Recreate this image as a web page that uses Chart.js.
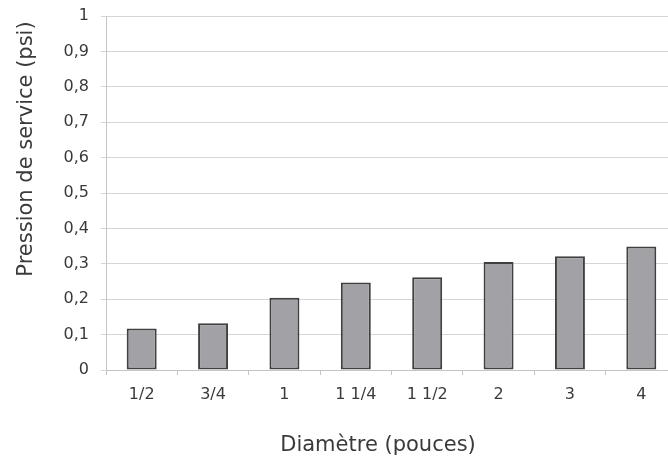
<!DOCTYPE html>
<html>
<head>
<meta charset="utf-8">
<script src="https://cdn.jsdelivr.net/npm/chart.js@4.4.0/dist/chart.umd.min.js"></script>
<style>
  html, body { margin: 0; padding: 0; background: #fff; }
  #graficoPression { display: block; }
</style>
</head>
<body>
<canvas id="graficoPression" width="668" height="456"></canvas>
<script>
// Diamètres (pouces) et pression de service (psi)
var diametres = ['1/2', '3/4', '1', '1 1/4', '1 1/2', '2', '3', '4'];
var pressions = [0.117, 0.132, 0.204, 0.247, 0.262, 0.305, 0.321, 0.349];
var graduationsY = [0, 0.1, 0.2, 0.3, 0.4, 0.5, 0.6, 0.7, 0.8, 0.9, 1];
var titreX = 'Diamètre (pouces)';
var titreY = 'Pression de service (psi)';

var police = 'DejaVu Sans, Verdana, sans-serif';
var couleurTexte = '#3a3a3a';

/* Titres des axes dessinés à la main (ils ne sont pas centrés sur la zone du graphique) */
var titresAxes = {
  id: 'titresAxes',
  afterDraw: function(chart) {
    var c = chart.ctx;
    c.save();
    c.font = '21px ' + police;
    c.fillStyle = couleurTexte;
    c.textAlign = 'center';
    c.textBaseline = 'alphabetic';
    c.fillText(titreX, 378, 451);
    c.translate(32, 149);
    c.rotate(-Math.PI / 2);
    c.fillText(titreY, 0, 0);
    c.restore();
  }
};

/* La zone du graphique dépasse le bord droit, comme dans l'original */
var zoneCoupee = {
  id: 'zoneCoupee',
  afterLayout: function(chart) {
    var droite = 677;
    var x = chart.scales.x;
    chart.chartArea.right = droite;
    chart.chartArea.width = droite - chart.chartArea.left;
    x.right = droite;
    x.width = droite - x.left;
    x.configure();
  }
};

var ctx = document.getElementById('graficoPression');
var grafico = new Chart(ctx, {
  type: 'bar',
  data: {
    labels: diametres,
    datasets: [{
      label: 'Pression',
      data: pressions,
      backgroundColor: '#a2a2a6',
      borderColor: '#404040',
      borderWidth: 2,
      borderSkipped: false,
      barPercentage: 0.42,
      categoryPercentage: 1
    }]
  },
  options: {
    responsive: false,
    devicePixelRatio: 1,
    animation: false,
    layout: { padding: { top: 16, right: 0, bottom: 0, left: 0 } },
    plugins: {
      legend: { display: false },
      tooltip: { enabled: false }
    },
    scales: {
      x: {
        offset: true,
        grid: {
          offset: true,
          drawOnChartArea: false,
          drawTicks: true,
          tickLength: 5,
          color: '#c4c4c4'
        },
        border: { color: '#c4c4c4', width: 1 },
        ticks: {
          color: couleurTexte,
          padding: 10,
          maxRotation: 0,
          font: { family: police, size: 16 }
        },
        afterFit: function(scale) {
          scale.height = 86;
          scale.paddingLeft = 0;
          scale.paddingRight = 0;
        }
      },
      y: {
        min: 0,
        max: 1,
        afterBuildTicks: function(scale) {
          scale.ticks = graduationsY.map(function(v) { return { value: v }; });
        },
        grid: {
          color: '#d6d6d6',
          tickLength: 5
        },
        border: { color: '#c4c4c4', width: 1 },
        ticks: {
          color: couleurTexte,
          padding: 12,
          font: { family: police, size: 16 },
          callback: function(v) {
            if (Math.round(v) === v) return String(v);
            return v.toFixed(1).replace('.', ',');
          }
        },
        afterFit: function(scale) {
          scale.width = 106;
          scale.paddingTop = 0;
          scale.paddingBottom = 0;
        }
      }
    }
  },
  plugins: [titresAxes, zoneCoupee]
});
</script>
</body>
</html>
